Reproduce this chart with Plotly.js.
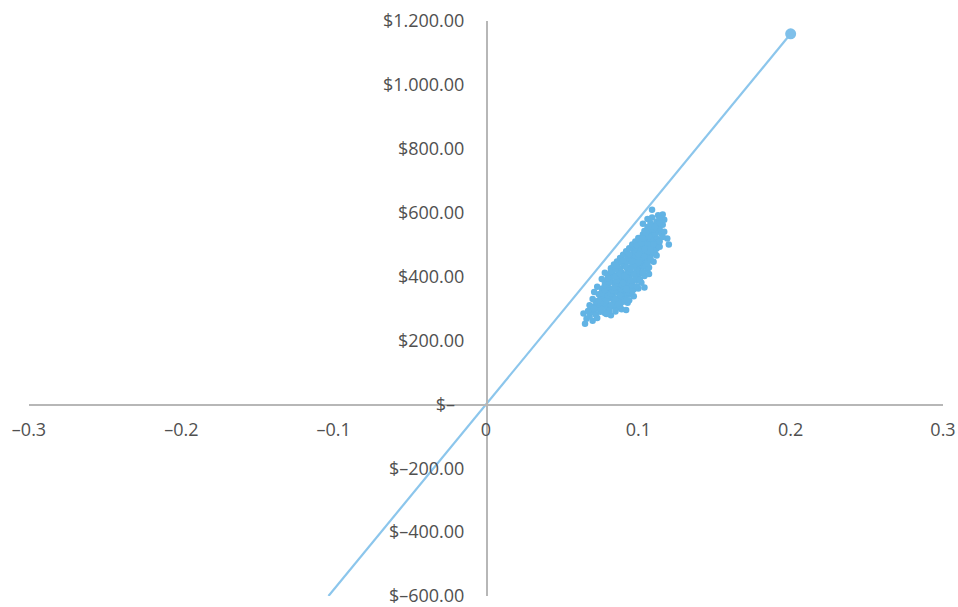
<!DOCTYPE html>
<html>
<head>
<meta charset="utf-8">
<script src="https://cdn.plot.ly/plotly-3.0.1.min.js"></script>
<style>html,body{margin:0;padding:0;background:#fff;}#chart{width:958px;height:607px;}</style>
</head>
<body>
<div id="chart"></div>
<script>
// Line through the origin (end point marked)
const lineX = [-0.1034, 0.2];
const lineY = [-600, 1160];

// Simulated cloud (x = return, y = value)
const cloudX = [
0.065,0.066,0.070,0.068,0.073,
0.064,0.069,0.072,0.075,0.078,0.082,0.071,0.067,
0.070,0.074,0.077,0.080,0.083,0.086,0.089,0.092,0.073,0.068,0.079,0.085,
0.072,0.075,0.078,0.081,0.084,0.087,0.090,0.093,0.076,0.082,0.088,0.070,
0.074,0.077,0.080,0.083,0.086,0.089,0.092,0.095,0.079,0.085,0.091,0.071,0.097,
0.076,0.079,0.082,0.085,0.088,0.091,0.094,0.097,0.100,0.080,0.086,0.093,0.073,0.104,
0.078,0.081,0.084,0.087,0.090,0.093,0.096,0.099,0.102,0.082,0.088,0.094,0.076,0.100,
0.080,0.083,0.086,0.089,0.092,0.095,0.098,0.101,0.104,0.087,0.093,0.099,0.078,0.107,
0.082,0.085,0.088,0.091,0.094,0.097,0.100,0.103,0.106,0.090,0.096,0.102,0.084,
0.086,0.089,0.092,0.095,0.098,0.101,0.104,0.107,0.093,0.099,0.105,0.088,0.110,
0.090,0.093,0.096,0.099,0.102,0.105,0.108,0.111,0.097,0.103,0.109,0.092,
0.094,0.097,0.100,0.103,0.106,0.109,0.112,0.101,0.107,0.113,0.096,
0.098,0.101,0.104,0.107,0.110,0.113,0.105,0.111,0.100,0.119,0.120,
0.103,0.106,0.109,0.112,0.115,0.108,0.114,0.104,
0.106,0.110,0.113,0.116,0.108,0.112,0.117,0.103,
0.109,0.113,0.116,0.109,0.106,0.114,
0.076,0.081,0.085,0.079,
0.075,0.082,0.088,0.071,0.087,
0.074,0.079,0.085,0.091,0.080,0.089,0.094,
0.076,0.082,0.088,0.094,0.083,0.089,0.078,0.096,
0.078,0.084,0.090,0.096,0.081,0.089,0.099,0.092,
0.080,0.086,0.092,0.098,0.085,0.095,0.101,0.090,
0.082,0.088,0.094,0.100,0.085,0.097,0.103,0.091,
0.086,0.092,0.098,0.104,0.089,0.095,0.101,0.107,
0.090,0.096,0.102,0.108,0.094,0.100,0.106,
0.094,0.100,0.106,0.112,0.098,0.104,0.110,
0.098,0.104,0.110,0.099,0.108,0.114,
0.102,0.108,0.114,0.103,0.116,
0.107,0.111,0.105,0.117,0.110,
0.108,0.114,0.111
];
const cloudY = [
252,268,262,275,270,
284,288,281,290,286,279,296,292,
305,301,308,300,306,302,298,295,312,310,315,313,
322,328,320,331,324,327,321,318,335,338,334,330,
345,341,350,344,352,347,341,345,355,358,356,352,338,
362,368,361,370,364,372,366,360,363,376,378,379,368,366,
384,390,382,393,386,391,384,389,381,398,400,398,392,396,
405,410,403,413,407,412,404,410,402,418,420,418,412,408,
426,431,424,434,428,433,425,430,423,440,442,438,438,
447,452,445,455,449,454,446,451,460,462,458,458,446,
468,473,466,476,470,475,467,472,481,483,480,479,
489,494,487,497,491,496,488,503,505,500,500,
510,515,508,518,512,517,524,526,521,519,500,
532,537,530,540,534,546,548,543,
555,560,553,562,568,572,578,565,
585,592,594,609,580,582,
297,294,291,283,
318,311,309,300,317,
325,326,332,329,340,339,326,
348,347,342,350,357,360,358,355,
373,365,368,373,382,375,370,361,
395,387,396,394,401,388,391,380,
417,408,415,415,422,409,413,402,
435,429,437,434,444,423,443,428,
451,448,458,456,465,445,441,
470,470,478,466,486,463,484,
492,486,501,498,485,493,
505,521,510,520,524,
527,535,538,540,548,
558,566,555
];

const xTickVals = [-0.3,-0.2,-0.1,0,0.1,0.2,0.3];
const xTickText = ["\u20130.3","\u20130.2","\u20130.1","0","0.1","0.2","0.3"];
const yTickVals = [-600,-400,-200,0,200,400,600,800,1000,1200];
const yTickText = ["$\u2013600.00","$\u2013400.00","$\u2013200.00","$\u2013\u00a0\u00a0","$200.00","$400.00","$600.00","$800.00","$1.000.00","$1.200.00"];

const lineColor = "#8cc6ec";
const endColor = "#7fc0ea";
const dotColor = "#62b3e4";
const axisColor = "#b7b7b7";
const textColor = "#505050";

const traces = [
  {
    x: lineX, y: lineY, type: "scatter", mode: "lines+markers",
    line: {color: lineColor, width: 2.2},
    marker: {color: endColor, size: [0, 11], opacity: 1, line: {width: 0}},
    hoverinfo: "skip", showlegend: false
  },
  {
    x: cloudX, y: cloudY, type: "scatter", mode: "markers",
    marker: {color: dotColor, size: 6.5},
    showlegend: false
  }
];

const layout = {
  width: 958, height: 607,
  margin: {l: 29, r: 15, t: 21, b: 11},
  paper_bgcolor: "#ffffff", plot_bgcolor: "#ffffff",
  font: {family: "'Open Sans', sans-serif", size: 18, color: textColor},
  showlegend: false,
  xaxis: {
    range: [-0.3, 0.3], tickvals: xTickVals, ticktext: xTickText,
    showgrid: false, zeroline: false, showline: true, linecolor: axisColor, linewidth: 1.5,
    ticks: "", ticklabelstandoff: 9, ticklabeloverflow: "allow",
    anchor: "free", position: 1/3,
    tickfont: {size: 18, color: textColor}
  },
  yaxis: {
    range: [-600, 1200], tickvals: yTickVals, ticktext: yTickText,
    showgrid: false, zeroline: false, showline: true, linecolor: axisColor, linewidth: 1.5,
    ticks: "", ticklabelstandoff: 18, ticklabeloverflow: "allow",
    anchor: "free", position: 0.5,
    tickfont: {size: 18, color: textColor}
  }
};

Plotly.newPlot("chart", traces, layout, {displayModeBar: false, staticPlot: true});
</script>
</body>
</html>
